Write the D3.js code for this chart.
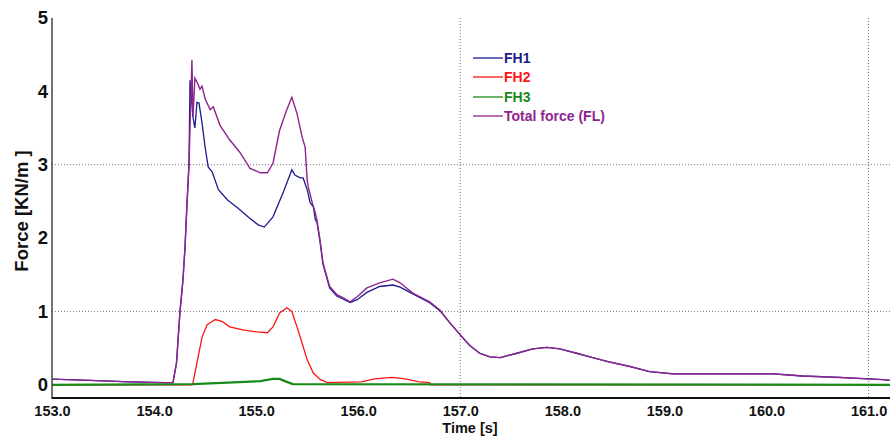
<!DOCTYPE html>
<html><head><meta charset="utf-8">
<script src="https://cdn.jsdelivr.net/npm/d3@7"></script>
<style>html,body{margin:0;padding:0;background:#fff;}svg{display:block;font-family:"Liberation Sans",Arial,sans-serif;}</style>
</head><body><svg id="c" width="890" height="437"></svg>
<script>
const seriesNames = ["FH1", "FH2", "FH3", "Total force (FL)"];
const seriesColors = ["#1c1c8e", "#ff1414", "#1a8a1a", "#8e248e"];
const xTicks = [153, 154, 155, 156, 157, 158, 159, 160, 161];
const yTicks = [0, 1, 2, 3, 4, 5];
const xGrid = [157, 161];
const yGrid = [1, 3];

const timeTotal = [153.00,153.37,153.76,154.10,154.185,154.22,154.254,154.283,154.303,154.322,154.342,154.371,154.381,154.40,154.43,154.45,154.47,154.50,154.55,154.58,154.645,154.74,154.84,154.94,155.04,155.11,155.165,155.23,155.30,155.35,155.40,155.45,155.48,155.50,155.51,155.55,155.58,155.595,155.625,155.655,155.72,155.79,155.85,155.92,155.99,156.085,156.21,156.34,156.41,156.535,156.70,156.80,156.90,157.00,157.09,157.19,157.29,157.39,157.555,157.71,157.85,157.975,158.14,158.27,158.465,158.66,158.855,159.08,159.57,160.06,160.355,160.72,161.14,161.21];
const valuesTotal = [0.077,0.06,0.04,0.03,0.03,0.3,1.0,1.43,1.87,2.45,3.0,4.43,3.65,4.18,4.1,4.03,4.07,3.9,3.75,3.79,3.54,3.34,3.17,2.95,2.89,2.89,3.02,3.47,3.75,3.92,3.7,3.38,3.24,2.79,2.7,2.48,2.34,2.25,1.98,1.66,1.34,1.23,1.19,1.13,1.2,1.32,1.39,1.44,1.39,1.25,1.13,1.02,0.84,0.68,0.54,0.43,0.38,0.37,0.43,0.49,0.51,0.49,0.43,0.38,0.31,0.25,0.18,0.15,0.15,0.15,0.12,0.1,0.07,0.06];

const timeFH1 = [153.00,153.37,153.76,154.10,154.185,154.22,154.254,154.283,154.303,154.322,154.342,154.352,154.381,154.40,154.42,154.44,154.47,154.50,154.53,154.57,154.63,154.72,154.82,154.92,155.02,155.08,155.165,155.265,155.35,155.38,155.43,155.46,155.50,155.53,155.56,155.58,155.595,155.625,155.655,155.72,155.79,155.85,155.92,155.99,156.085,156.21,156.34,156.41,156.535,156.70,156.80,156.90,157.00,157.09,157.19,157.29,157.39,157.555,157.71,157.85,157.975,158.14,158.27,158.465,158.66,158.855,159.08,159.57,160.06,160.355,160.72,161.14,161.21];
const valuesFH1 = [0.077,0.06,0.04,0.03,0.03,0.3,1.0,1.43,1.87,2.45,3.0,4.15,3.65,3.5,3.85,3.84,3.57,3.24,2.97,2.9,2.66,2.52,2.41,2.29,2.18,2.15,2.29,2.62,2.93,2.86,2.82,2.82,2.66,2.48,2.43,2.25,2.22,1.96,1.64,1.32,1.21,1.17,1.12,1.16,1.26,1.34,1.36,1.33,1.24,1.12,1.01,0.84,0.68,0.54,0.43,0.38,0.37,0.43,0.49,0.51,0.49,0.43,0.38,0.31,0.25,0.18,0.15,0.15,0.15,0.12,0.1,0.07,0.06];

const timeFH2 = [153.00,154.37,154.381,154.42,154.47,154.52,154.60,154.67,154.74,154.87,155.01,155.11,155.165,155.23,155.30,155.35,155.40,155.45,155.50,155.56,155.63,155.70,156.03,156.16,156.33,156.46,156.60,156.70,156.71,161.21];
const valuesFH2 = [0,0,0.03,0.3,0.65,0.82,0.89,0.86,0.79,0.75,0.72,0.71,0.79,0.98,1.05,1.0,0.79,0.57,0.34,0.16,0.07,0.03,0.04,0.08,0.1,0.08,0.04,0.03,0,0];

const timeFH3 = [153.00,154.38,154.72,155.04,155.165,155.23,155.30,155.36,161.21];
const valuesFH3 = [0,0.01,0.03,0.05,0.08,0.08,0.04,0.01,0];

const svg = d3.select("#c");
const x = d3.scaleLinear().domain([153, 161.21]).range([52, 890]);
const y = d3.scaleLinear().domain([-0.18, 5]).range([398, 18]);

// grid
svg.append("g").selectAll("line").data(yGrid).join("line")
  .attr("x1", 52).attr("x2", 890).attr("y1", d => y(d)).attr("y2", d => y(d))
  .attr("stroke", "#777").attr("stroke-width", 1).attr("stroke-dasharray", "1,2");
svg.append("g").selectAll("line").data(xGrid).join("line")
  .attr("x1", d => x(d)).attr("x2", d => x(d)).attr("y1", 18).attr("y2", 398)
  .attr("stroke", "#777").attr("stroke-width", 1).attr("stroke-dasharray", "1,2");

const series = [
  {t: timeFH1, v: valuesFH1, w: 1.3},
  {t: timeFH2, v: valuesFH2, w: 1.3},
  {t: timeFH3, v: valuesFH3, w: 2.2},
  {t: timeTotal, v: valuesTotal, w: 1.4}
];
const line = d3.line().x(d => x(d[0])).y(d => y(d[1]));
series.forEach((s, i) => {
  svg.append("path").datum(s.t.map((t, k) => [t, s.v[k]]))
    .attr("d", line).attr("fill", "none")
    .attr("stroke", seriesColors[i]).attr("stroke-width", s.w)
    .attr("stroke-linejoin", "miter");
});

// axes
const yAxis = d3.axisLeft(y).tickValues(yTicks).tickFormat(d3.format("d")).tickSize(0).tickPadding(4);
const gy = svg.append("g").attr("transform", "translate(52,0)").call(yAxis);
gy.select(".domain").remove();
gy.selectAll("text").attr("font-size", 18.5).attr("font-weight", "bold").attr("fill", "#111").attr("font-family", "Liberation Sans, Arial, sans-serif");
svg.append("line").attr("x1", 52).attr("x2", 52).attr("y1", 18).attr("y2", 399).attr("stroke", "#444").attr("stroke-width", 1.5);

const xAxis = d3.axisBottom(x).tickValues(xTicks).tickFormat(d3.format(".1f")).tickSize(0).tickPadding(8);
const gx = svg.append("g").attr("transform", "translate(0,398)").call(xAxis);
gx.select(".domain").remove();
gx.selectAll("text").attr("font-size", 14.5).attr("font-weight", "bold").attr("fill", "#111").attr("font-family", "Liberation Sans, Arial, sans-serif");
svg.append("line").attr("x1", 52).attr("x2", 890).attr("y1", 398).attr("y2", 398).attr("stroke", "#111").attr("stroke-width", 2);

svg.append("text").attr("x", 470).attr("y", 433).attr("text-anchor", "middle")
  .attr("font-size", 14.5).attr("font-weight", "bold").attr("fill", "#111").text("Time [s]");
svg.append("text").attr("transform", "translate(28,211) rotate(-90)").attr("text-anchor", "middle")
  .attr("font-size", 18.5).attr("font-weight", "bold").attr("fill", "#111").text("Force [KN/m ]");

// legend
const legY = [58, 77, 97, 116];
const lg = svg.append("g");
seriesNames.forEach((n, i) => {
  lg.append("line").attr("x1", 473).attr("x2", 503).attr("y1", legY[i]).attr("y2", legY[i])
    .attr("stroke", seriesColors[i]).attr("stroke-width", 1.3);
  lg.append("text").attr("x", 504).attr("y", legY[i] + 5).attr("font-size", 14).attr("font-weight", "bold")
    .attr("fill", seriesColors[i]).text(n);
});
</script></body></html>
